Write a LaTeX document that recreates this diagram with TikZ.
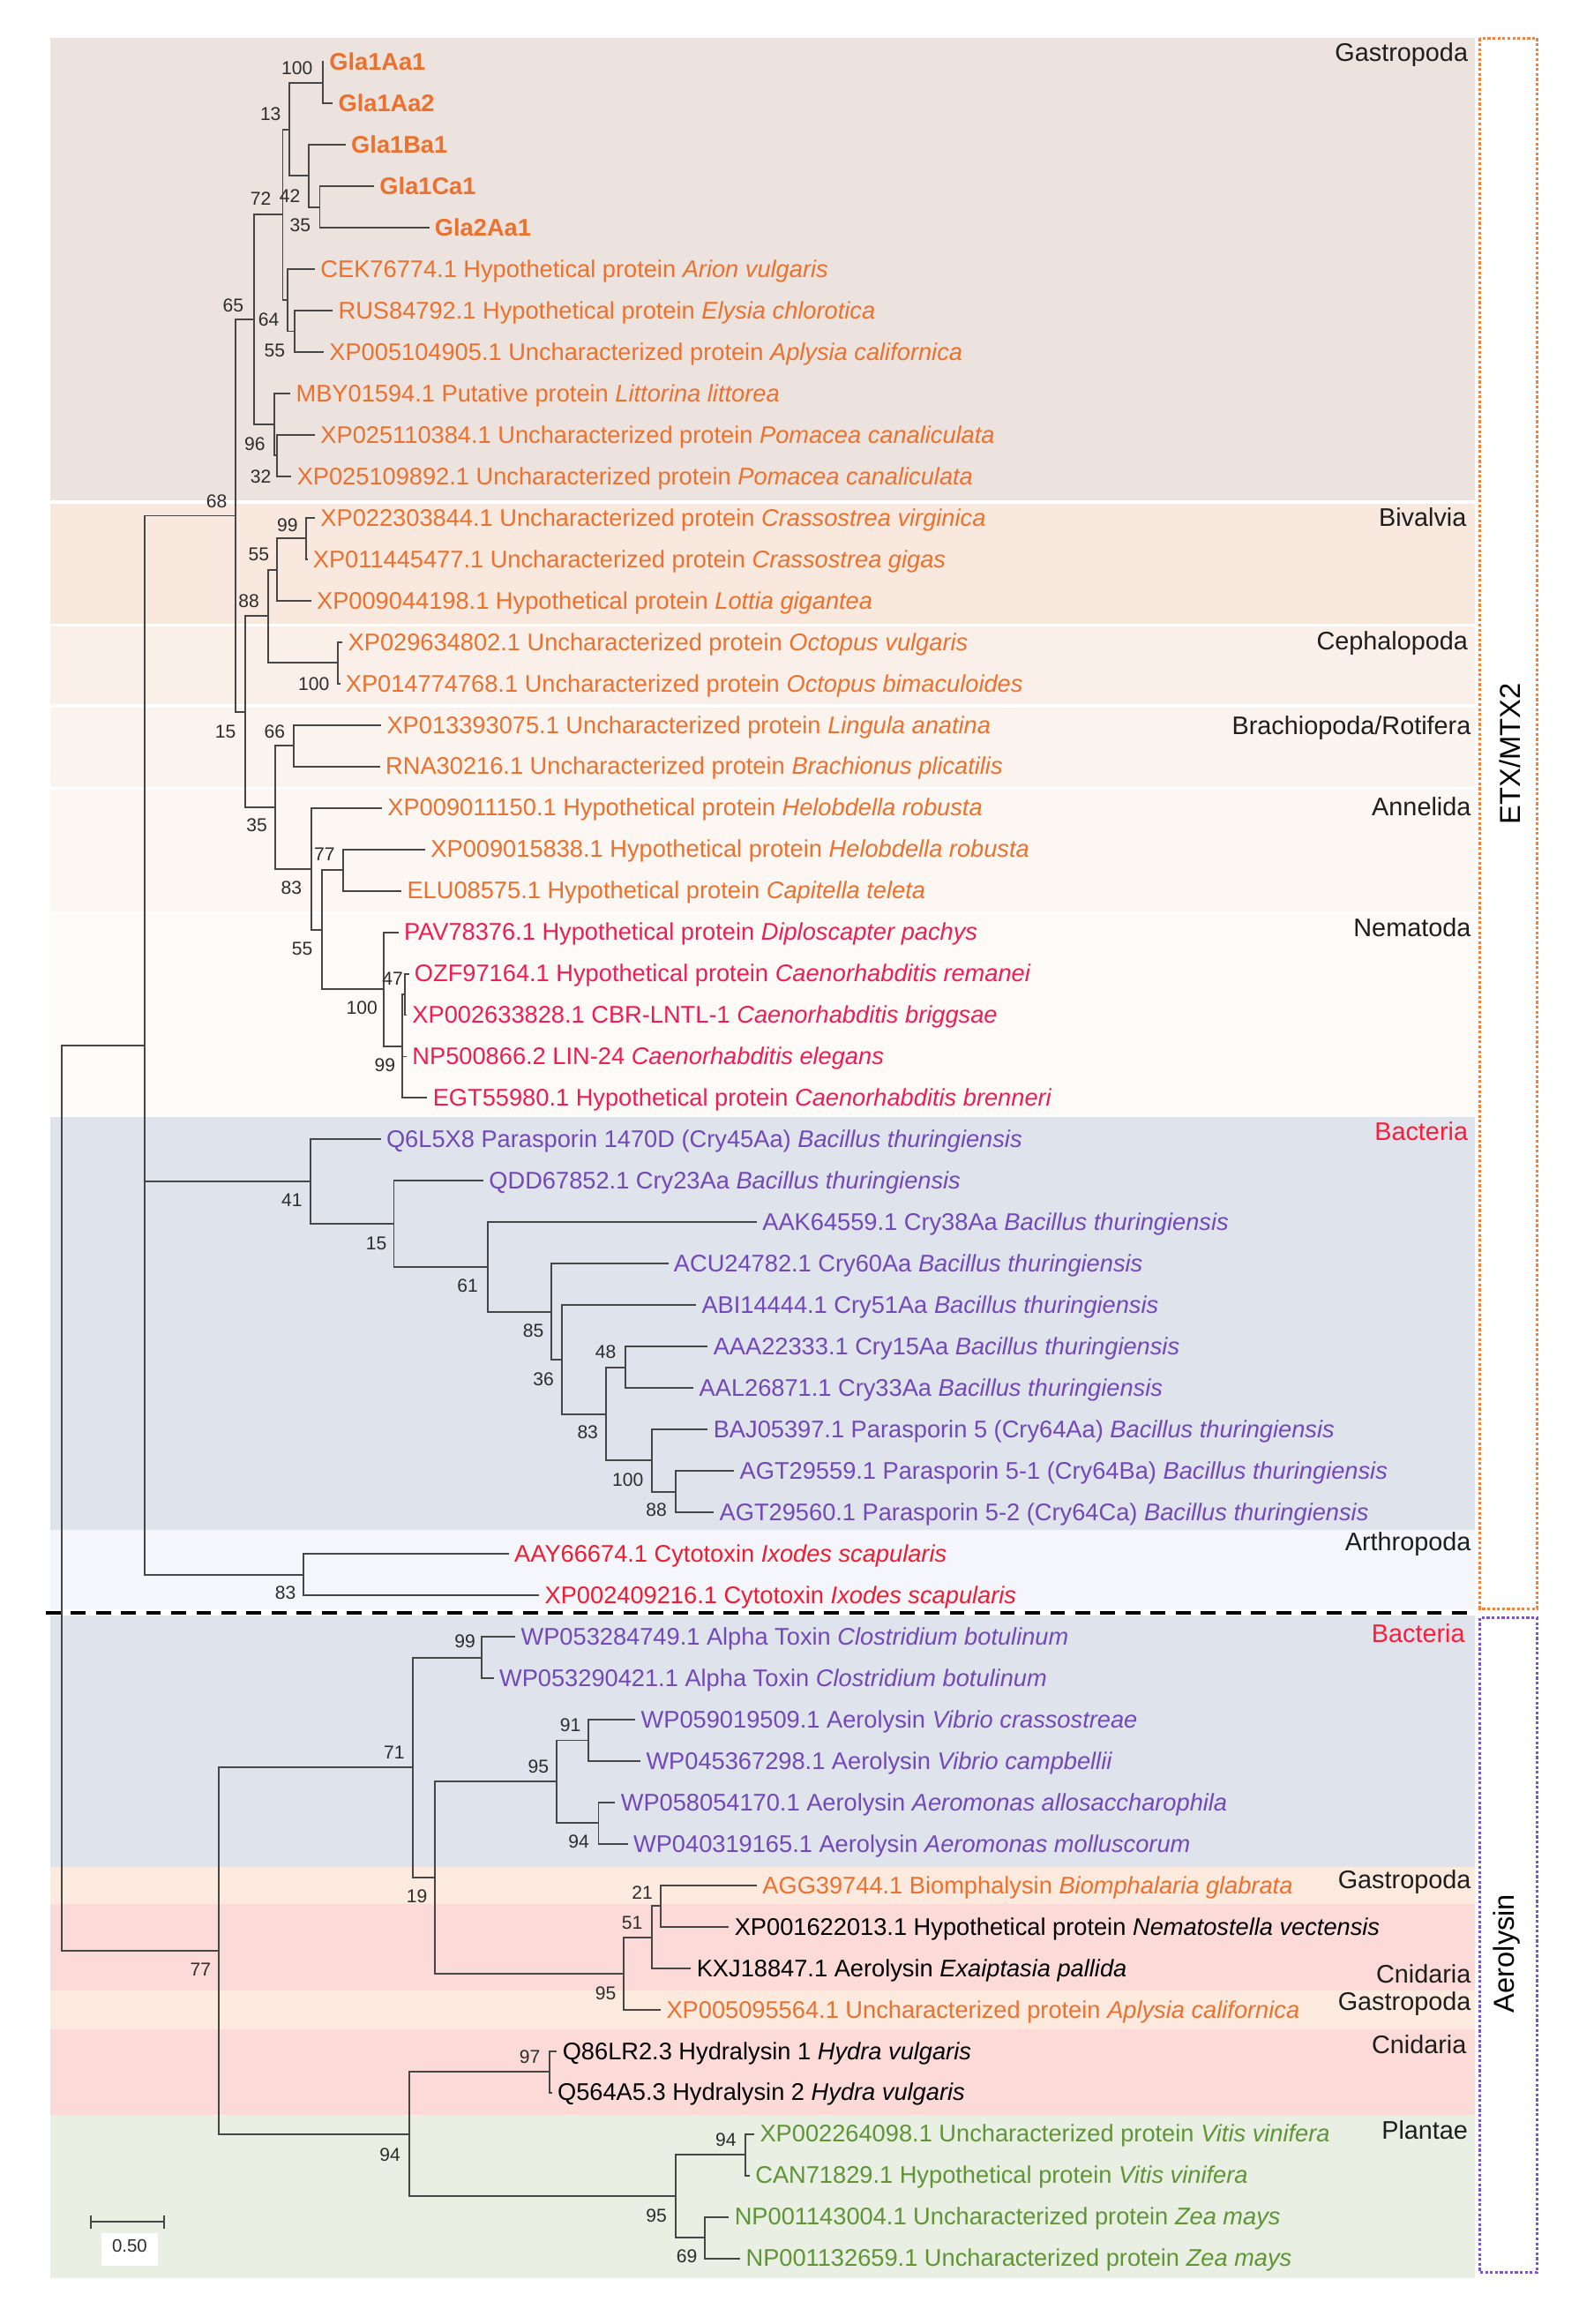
\documentclass[tikz,border=0pt]{standalone}
\usepackage{fontspec}
\setmainfont{Liberation Sans}
\definecolor{treec}{RGB}{70,70,70}
\definecolor{bsc}{RGB}{45,45,45}
\definecolor{grpc}{RGB}{30,30,30}
\definecolor{orc}{RGB}{236,112,46}
\definecolor{nemc}{RGB}{238,30,85}
\definecolor{arc}{RGB}{240,28,50}
\definecolor{bacl}{RGB}{250,30,60}
\definecolor{puc}{RGB}{115,72,185}
\definecolor{grc}{RGB}{95,148,55}
\definecolor{bgGas}{RGB}{237,227,222}
\definecolor{bgBiv}{RGB}{249,232,221}
\definecolor{bgCep}{RGB}{251,240,233}
\definecolor{bgBra}{RGB}{251,243,237}
\definecolor{bgAnn}{RGB}{252,247,243}
\definecolor{bgNem}{RGB}{254,250,247}
\definecolor{bgBac}{RGB}{223,227,235}
\definecolor{bgArt}{RGB}{244,246,251}
\definecolor{bgGasB}{RGB}{253,234,222}
\definecolor{bgCni}{RGB}{252,218,216}
\definecolor{bgPla}{RGB}{233,240,227}
\definecolor{etxc}{RGB}{240,130,60}
\definecolor{aerc}{RGB}{120,85,200}
\newcommand\lf[5]{\coordinate (t#1) at (#2,#3); \node[leaf,text=#4] (l#1) at (t#1) {#5};}
\tikzset{
 br/.style={draw=treec, line width=0.55pt},
 leaf/.style={anchor=mid west, inner xsep=1.6pt, inner ysep=0pt, font=\fontsize{7.75}{9}\selectfont},
 bs/.style={anchor=east, inner sep=0pt, font=\fontsize{6}{7}\selectfont, text=bsc},
 grp/.style={anchor=mid east, inner sep=0pt, font=\fontsize{8.2}{9}\selectfont, text=grpc},
 sidebox/.style={line width=0.75pt, dash pattern=on 0.9pt off 0.7pt},
 sidelab/.style={rotate=90, inner sep=0pt, font=\fontsize{9.3}{10}\selectfont, text=black}
}
\begin{document}
\begin{tikzpicture}[x=0.16798mm, y=-0.16798mm]
\useasboundingbox (0,0) rectangle (1065,1568);
\fill[white] (0,0) rectangle (1065,1568);
% background bands
\fill[bgGas] (34,25.8) rectangle (995.5,337.6);
\fill[bgBiv] (34,339.8) rectangle (995.5,420.7);
\fill[bgCep] (34,422.6) rectangle (995.5,474.8);
\fill[bgBra] (34,477.3) rectangle (995.5,530.8);
\fill[bgAnn] (34,533) rectangle (995.5,614.8);
\fill[bgNem] (34,617) rectangle (995.5,752.5);
\fill[bgBac] (34,753.5) rectangle (995.5,1032.5);
\fill[bgArt] (34,1032.5) rectangle (995.5,1086);
\fill[bgBac] (34,1090) rectangle (995.5,1259.5);
\fill[bgGasB] (34,1259.5) rectangle (995.5,1284.5);
\fill[bgCni] (34,1284.5) rectangle (995.5,1343);
\fill[bgGasB] (34,1343) rectangle (995.5,1369);
\fill[bgCni] (34,1369) rectangle (995.5,1427);
\fill[bgPla] (34,1427) rectangle (995.5,1537.2);
% side boxes
\draw[sidebox, draw=etxc] (998.7,25.8) rectangle (1037.3,1085.4);
\draw[sidebox, draw=aerc] (998.7,1091.6) rectangle (1037.3,1533.3);
\node[sidelab] (etx) at (1019,508.7) {ETX/MTX2};
\node[sidelab] (aer) at (1017,1318) {Aerolysin};
% dashed separator
\draw[line width=1.3pt, dash pattern=on 4.8pt off 3.3pt] (30.8,1088.3) -- (991,1088.3);
% group labels
\node[grp] (g1) at (991,36) {Gastropoda};
\node[grp] (g2) at (990,349.5) {Bivalvia};
\node[grp] (g3) at (991,432.8) {Cephalopoda};
\node[grp] (g4) at (993,489.8) {Brachiopoda/Rotifera};
\node[grp] (g5) at (993,544.8) {Annelida};
\node[grp] (g6) at (993,626.3) {Nematoda};
\node[grp, text=bacl] (g7) at (991,764) {Bacteria};
\node[grp] (g8) at (993,1040.7) {Arthropoda};
\node[grp, text=bacl] (g9) at (989,1102.8) {Bacteria};
\node[grp] (g10) at (993,1268.4) {Gastropoda};
\node[grp] (g11) at (993,1332.3) {Cnidaria};
\node[grp] (g12) at (993,1350.9) {Gastropoda};
\node[grp] (g13) at (990,1380.1) {Cnidaria};
\node[grp] (g14) at (991,1437.8) {Plantae};
% leaves
\lf{1}{218.5}{41.8}{orc}{\bfseries Gla1Aa1}
\lf{2}{224.6}{69.76}{orc}{\bfseries Gla1Aa2}
\lf{3}{233.3}{97.72}{orc}{\bfseries Gla1Ba1}
\lf{4}{252.5}{125.68}{orc}{\bfseries Gla1Ca1}
\lf{5}{289.7}{153.64}{orc}{\bfseries Gla2Aa1}
\lf{6}{212.6}{181.6}{orc}{CEK76774.1 Hypothetical protein \textit{Arion vulgaris}}
\lf{7}{224.6}{209.56}{orc}{RUS84792.1 Hypothetical protein \textit{Elysia chlorotica}}
\lf{8}{218.5}{237.52}{orc}{XP005104905.1 Uncharacterized protein \textit{Aplysia californica}}
\lf{9}{196}{265.48}{orc}{MBY01594.1 Putative protein \textit{Littorina littorea}}
\lf{10}{212.6}{293.44}{orc}{XP025110384.1 Uncharacterized protein \textit{Pomacea canaliculata}}
\lf{11}{196.7}{321.4}{orc}{XP025109892.1 Uncharacterized protein \textit{Pomacea canaliculata}}
\lf{12}{212.6}{349.36}{orc}{XP022303844.1 Uncharacterized protein \textit{Crassostrea virginica}}
\lf{13}{207.5}{377.32}{orc}{XP011445477.1 Uncharacterized protein \textit{Crassostrea gigas}}
\lf{14}{210}{405.28}{orc}{XP009044198.1 Hypothetical protein \textit{Lottia gigantea}}
\lf{15}{231.2}{433.24}{orc}{XP029634802.1 Uncharacterized protein \textit{Octopus vulgaris}}
\lf{16}{229.5}{461.2}{orc}{XP014774768.1 Uncharacterized protein \textit{Octopus bimaculoides}}
\lf{17}{257.3}{489.16}{orc}{XP013393075.1 Uncharacterized protein \textit{Lingula anatina}}
\lf{18}{256.5}{517.12}{orc}{RNA30216.1 Uncharacterized protein \textit{Brachionus plicatilis}}
\lf{19}{257.8}{545.08}{orc}{XP009011150.1 Hypothetical protein \textit{Helobdella robusta}}
\lf{20}{287}{573.04}{orc}{XP009015838.1 Hypothetical protein \textit{Helobdella robusta}}
\lf{21}{271}{601}{orc}{ELU08575.1 Hypothetical protein \textit{Capitella teleta}}
\lf{22}{268.9}{628.96}{nemc}{PAV78376.1 Hypothetical protein \textit{Diploscapter pachys}}
\lf{23}{276}{656.92}{nemc}{OZF97164.1 Hypothetical protein \textit{Caenorhabditis remanei}}
\lf{24}{274.5}{684.88}{nemc}{XP002633828.1 CBR-LNTL-1 \textit{Caenorhabditis briggsae}}
\lf{25}{274.5}{712.84}{nemc}{NP500866.2 LIN-24 \textit{Caenorhabditis elegans}}
\lf{26}{288.4}{740.8}{nemc}{EGT55980.1 Hypothetical protein \textit{Caenorhabditis brenneri}}
\lf{27}{257}{768.76}{puc}{Q6L5X8 Parasporin 1470D (Cry45Aa) \textit{Bacillus thuringiensis}}
\lf{28}{326.3}{796.72}{puc}{QDD67852.1 Cry23Aa \textit{Bacillus thuringiensis}}
\lf{29}{510.8}{824.68}{puc}{AAK64559.1 Cry38Aa \textit{Bacillus thuringiensis}}
\lf{30}{451}{852.64}{puc}{ACU24782.1 Cry60Aa \textit{Bacillus thuringiensis}}
\lf{31}{469.8}{880.6}{puc}{ABI14444.1 Cry51Aa \textit{Bacillus thuringiensis}}
\lf{32}{477.7}{908.56}{puc}{AAA22333.1 Cry15Aa \textit{Bacillus thuringiensis}}
\lf{33}{468.1}{936.52}{puc}{AAL26871.1 Cry33Aa \textit{Bacillus thuringiensis}}
\lf{34}{477.7}{964.48}{puc}{BAJ05397.1 Parasporin 5 (Cry64Aa) \textit{Bacillus thuringiensis}}
\lf{35}{495.5}{992.44}{puc}{AGT29559.1 Parasporin 5-1 (Cry64Ba) \textit{Bacillus thuringiensis}}
\lf{36}{481.8}{1020.4}{puc}{AGT29560.1 Parasporin 5-2 (Cry64Ca) \textit{Bacillus thuringiensis}}
\lf{37}{343.4}{1048.36}{arc}{AAY66674.1 Cytotoxin \textit{Ixodes scapularis}}
\lf{38}{363.9}{1076.32}{arc}{XP002409216.1 Cytotoxin \textit{Ixodes scapularis}}
\lf{39}{347.8}{1104.28}{puc}{WP053284749.1 Alpha Toxin \textit{Clostridium botulinum}}
\lf{40}{333.2}{1132.24}{puc}{WP053290421.1 Alpha Toxin \textit{Clostridium botulinum}}
\lf{41}{428.8}{1160.2}{puc}{WP059019509.1 Aerolysin \textit{Vibrio crassostreae}}
\lf{42}{432.3}{1188.16}{puc}{WP045367298.1 Aerolysin \textit{Vibrio campbellii}}
\lf{43}{415.2}{1216.12}{puc}{WP058054170.1 Aerolysin \textit{Aeromonas allosaccharophila}}
\lf{44}{423.7}{1244.08}{puc}{WP040319165.1 Aerolysin \textit{Aeromonas molluscorum}}
\lf{45}{510.8}{1272.04}{orc}{AGG39744.1 Biomphalysin \textit{Biomphalaria glabrata}}
\lf{46}{492}{1300}{black}{XP001622013.1 Hypothetical protein \textit{Nematostella vectensis}}
\lf{47}{466.4}{1327.96}{black}{KXJ18847.1 Aerolysin \textit{Exaiptasia pallida}}
\lf{48}{446}{1355.92}{orc}{XP005095564.1 Uncharacterized protein \textit{Aplysia californica}}
\lf{49}{375.9}{1383.88}{black}{Q86LR2.3 Hydralysin 1 \textit{Hydra vulgaris}}
\lf{50}{372.5}{1411.84}{black}{Q564A5.3 Hydralysin 2 \textit{Hydra vulgaris}}
\lf{51}{509.1}{1439.8}{grc}{XP002264098.1 Uncharacterized protein \textit{Vitis vinifera}}
\lf{52}{506}{1467.76}{grc}{CAN71829.1 Hypothetical protein \textit{Vitis vinifera}}
\lf{53}{492}{1495.72}{grc}{NP001143004.1 Uncharacterized protein \textit{Zea mays}}
\lf{54}{499.6}{1523.68}{grc}{NP001132659.1 Uncharacterized protein \textit{Zea mays}}
% internal nodes
\coordinate (nAa) at (217.9,55.78);
\coordinate (n35) at (215.8,139.66);
\coordinate (n42) at (208.1,118.69);
\coordinate (n13) at (195.3,87.24);
\coordinate (n55a) at (198.8,223.54);
\coordinate (n64) at (194,202.57);
\coordinate (n72) at (190.8,144.9);
\coordinate (n32) at (187,307.42);
\coordinate (n96) at (185.2,286.45);
\coordinate (n65) at (171.4,215.68);
\coordinate (n99a) at (206.8,363.34);
\coordinate (n55b) at (186.8,384.31);
\coordinate (n100a) at (228,447.22);
\coordinate (n88) at (181.2,415.77);
\coordinate (n66) at (198,503.14);
\coordinate (n77) at (231.7,587.02);
\coordinate (n47) at (273.2,670.9);
\coordinate (n99b) at (271.6,705.85);
\coordinate (n100b) at (259.1,667.41);
\coordinate (n55c) at (217.4,627.22);
\coordinate (n83a) at (210,586.15);
\coordinate (n35b) at (186,544.65);
\coordinate (n15a) at (165.3,480.21);
\coordinate (n68) at (158.9,347.95);
\coordinate (n88b) at (456.2,1006.42);
\coordinate (n100c) at (439.8,985.45);
\coordinate (n48) at (422,922.54);
\coordinate (n83b) at (409,954);
\coordinate (n36) at (379.3,917.3);
\coordinate (n85) at (371.8,884.97);
\coordinate (n61) at (329,854.83);
\coordinate (n15b) at (265.8,825.78);
\coordinate (n41) at (209.5,797.27);
\coordinate (n83c) at (205,1062.34);
\coordinate (nTop) at (97.4,705.15);
\coordinate (n99c) at (325.3,1118.26);
\coordinate (n91) at (397,1174.18);
\coordinate (n94a) at (403.9,1230.1);
\coordinate (n95a) at (375.9,1202.14);
\coordinate (n21) at (446,1286.02);
\coordinate (n51) at (440.1,1306.99);
\coordinate (n95b) at (421,1331.46);
\coordinate (n19) at (293.2,1266.8);
\coordinate (n71) at (278.5,1192.53);
\coordinate (n97) at (370.7,1397.86);
\coordinate (n94b) at (503,1453.78);
\coordinate (n69) at (475.6,1509.7);
\coordinate (n95c) at (456.2,1481.74);
\coordinate (n94c) at (276.1,1439.8);
\coordinate (n77b) at (147.6,1316.17);
\coordinate (root) at (41.7,1010.66);
% branches
\draw[br] (nAa) |- (t1) (nAa) |- (t2)
 (n35) |- (t4) (n35) |- (t5)
 (n42) |- (t3) (n42) |- (n35)
 (n13) |- (nAa) (n13) |- (n42)
 (n55a) |- (t7) (n55a) |- (t8)
 (n64) |- (t6) (n64) |- (n55a)
 (n72) |- (n13) (n72) |- (n64)
 (n32) |- (t10) (n32) |- (t11)
 (n96) |- (t9) (n96) |- (n32)
 (n65) |- (n72) (n65) |- (n96)
 (n99a) |- (t12) (n99a) |- (t13)
 (n55b) |- (n99a) (n55b) |- (t14)
 (n100a) |- (t15) (n100a) |- (t16)
 (n88) |- (n55b) (n88) |- (n100a)
 (n66) |- (t17) (n66) |- (t18)
 (n77) |- (t20) (n77) |- (t21)
 (n47) |- (t23) (n47) |- (t24)
 (n99b) |- (n47) (n99b) |- (t25) (n99b) |- (t26)
 (n100b) |- (t22) (n100b) |- (n99b)
 (n55c) |- (n77) (n55c) |- (n100b)
 (n83a) |- (t19) (n83a) |- (n55c)
 (n35b) |- (n66) (n35b) |- (n83a)
 (n15a) |- (n88) (n15a) |- (n35b)
 (n68) |- (n65) (n68) |- (n15a)
 (n88b) |- (t35) (n88b) |- (t36)
 (n100c) |- (t34) (n100c) |- (n88b)
 (n48) |- (t32) (n48) |- (t33)
 (n83b) |- (n48) (n83b) |- (n100c)
 (n36) |- (t31) (n36) |- (n83b)
 (n85) |- (t30) (n85) |- (n36)
 (n61) |- (t29) (n61) |- (n85)
 (n15b) |- (t28) (n15b) |- (n61)
 (n41) |- (t27) (n41) |- (n15b)
 (n83c) |- (t37) (n83c) |- (t38)
 (nTop) |- (n68) (nTop) |- (n41) (nTop) |- (n83c)
 (root) |- (nTop) (root) |- (n77b)
 (n99c) |- (t39) (n99c) |- (t40)
 (n91) |- (t41) (n91) |- (t42)
 (n94a) |- (t43) (n94a) |- (t44)
 (n95a) |- (n91) (n95a) |- (n94a)
 (n21) |- (t45) (n21) |- (t46)
 (n51) |- (n21) (n51) |- (t47)
 (n95b) |- (n51) (n95b) |- (t48)
 (n19) |- (n95a) (n19) |- (n95b)
 (n71) |- (n99c) (n71) |- (n19)
 (n97) |- (t49) (n97) |- (t50)
 (n94b) |- (t51) (n94b) |- (t52)
 (n69) |- (t53) (n69) |- (t54)
 (n95c) |- (n94b) (n95c) |- (n69)
 (n94c) |- (n97) (n94c) |- (n95c)
 (n77b) |- (n71) (n77b) |- (n94c);
% bootstrap values
\node[bs] (b1) at (211.3,46.2) {100};
\node[bs] (b2) at (190,77) {13};
\node[bs] (b3) at (183.4,134) {72};
\node[bs] (b4) at (203,132) {42};
\node[bs] (b5) at (210,152) {35};
\node[bs] (b6) at (164.8,206) {65};
\node[bs] (b7) at (188.7,215.8) {64};
\node[bs] (b8) at (192.7,236.7) {55};
\node[bs] (b9) at (179.4,299.5) {96};
\node[bs] (b10) at (183.4,321.6) {32};
\node[bs] (b11) at (153.6,338) {68};
\node[bs] (b12) at (201.4,354.1) {99};
\node[bs] (b13) at (182,373.8) {55};
\node[bs] (b14) at (175.4,405.7) {88};
\node[bs] (b15) at (222.7,461.5) {100};
\node[bs] (b16) at (159.5,493.6) {15};
\node[bs] (b17) at (192.7,493.6) {66};
\node[bs] (b18) at (180.7,556.6) {35};
\node[bs] (b19) at (226.4,576.6) {77};
\node[bs] (b20) at (204,599.2) {83};
\node[bs] (b21) at (211.3,640.4) {55};
\node[bs] (b22) at (272.4,660.3) {47};
\node[bs] (b23) at (255.1,680.2) {100};
\node[bs] (b24) at (267.1,718.8) {99};
\node[bs] (b25) at (204.3,810) {41};
\node[bs] (b26) at (261.4,839) {15};
\node[bs] (b27) at (323,867.2) {61};
\node[bs] (b28) at (367.3,897.8) {85};
\node[bs] (b29) at (374.2,930.8) {36};
\node[bs] (b30) at (416.2,912) {48};
\node[bs] (b31) at (404,966) {83};
\node[bs] (b32) at (434.6,998.3) {100};
\node[bs] (b33) at (450.4,1018.8) {88};
\node[bs] (b34) at (200,1074.8) {83};
\node[bs] (b35) at (321.2,1107.6) {99};
\node[bs] (b36) at (273.4,1182.4) {71};
\node[bs] (b37) at (392.3,1163.9) {91};
\node[bs] (b38) at (370.7,1191.7) {95};
\node[bs] (b39) at (398,1242.7) {94};
\node[bs] (b40) at (288.7,1279.7) {19};
\node[bs] (b41) at (440.8,1276.7) {21};
\node[bs] (b42) at (434,1297.4) {51};
\node[bs] (b43) at (416.2,1344.6) {95};
\node[bs] (b44) at (142.8,1329) {77};
\node[bs] (b45) at (365,1388) {97};
\node[bs] (b46) at (270.6,1453.7) {94};
\node[bs] (b47) at (497.2,1443.5) {94};
\node[bs] (b48) at (450.4,1495.2) {95};
\node[bs] (b49) at (470.9,1522.3) {69};
% scale bar
\coordinate (sb1) at (61.5,1499.2);
\coordinate (sb2) at (111,1499.2);
\draw[br] (sb1) -- (sb2);
\draw[br] ([yshift=-2.2pt]sb1) -- ([yshift=2.2pt]sb1);
\draw[br] ([yshift=-2.2pt]sb2) -- ([yshift=2.2pt]sb2);
\fill[white] (68.3,1506.9) rectangle (106.6,1528.5);
\node[inner sep=0pt, font=\fontsize{5.8}{7}\selectfont, text=bsc] (sbl) at (87.5,1515.5) {0.50};
\end{tikzpicture}
\end{document}
